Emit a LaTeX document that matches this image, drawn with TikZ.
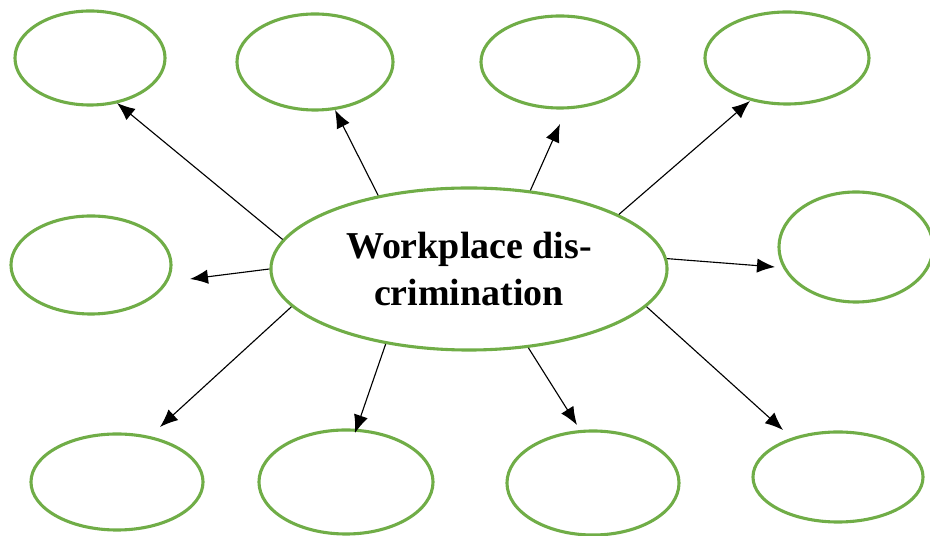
\documentclass[tikz,border=0pt]{standalone}
\usepackage{fontspec}
\setmainfont{Liberation Serif}
\usetikzlibrary{arrows.meta,shapes.geometric}
\definecolor{leafgreen}{RGB}{112,173,71}
\tikzset{
  bubble/.style={ellipse,draw=leafgreen,line width=2.2pt,inner sep=0pt,fill=white},
  hubbox/.style={bubble,align=center,font=\fontsize{27}{34}\selectfont\bfseries},
  flow/.style={-{Latex[length=4.5mm,width=3.6mm]},line width=0.8pt,draw=black}
}
\begin{document}
\begin{tikzpicture}[x=0.025cm,y=-0.025cm]
  \useasboundingbox (0,0) rectangle (930,536);
  % centre
  \node[hubbox,minimum width=9.9cm,minimum height=4.05cm] (hub) at (469,269) {Workplace dis-\\crimination};
  % top row
  \node[bubble,minimum width=3.75cm,minimum height=2.35cm] (t1) at (90,58) {};
  \node[bubble,minimum width=3.9cm,minimum height=2.4cm] (t2) at (315,62) {};
  \node[bubble,minimum width=3.95cm,minimum height=2.3cm] (t3) at (560,62) {};
  \node[bubble,minimum width=4.1cm,minimum height=2.3cm] (t4) at (787,58) {};
  % middle row
  \node[bubble,minimum width=4cm,minimum height=2.45cm] (m1) at (91,265) {};
  \node[bubble,minimum width=3.85cm,minimum height=2.75cm] (m2) at (856,247) {};
  % bottom row
  \node[bubble,minimum width=4.3cm,minimum height=2.4cm] (b1) at (117,482) {};
  \node[bubble,minimum width=4.35cm,minimum height=2.6cm] (b2) at (346,482) {};
  \node[bubble,minimum width=4.3cm,minimum height=2.6cm] (b3) at (593,483) {};
  \node[bubble,minimum width=4.25cm,minimum height=2.25cm] (b4) at (838,477) {};
  % arrow ends
  \coordinate (e1) at (117,103);
  \coordinate (e2) at (335,110);
  \coordinate (e3) at (560,124);
  \coordinate (e4) at (750,101);
  \coordinate (e5) at (190,279);
  \coordinate (e6) at (775,267);
  \coordinate (e7) at (160,427);
  \coordinate (e8) at (355,433);
  \coordinate (e9) at (577,425);
  \coordinate (e10) at (783,430);
  % arrows
  \draw[flow] (hub.171) -- (e1);
  \draw[flow] (hub.141) -- (e2);
  \draw[flow] (hub.52) -- (e3);
  \draw[flow] (hub.20) -- (e4);
  \draw[flow] (hub.180) -- (e5);
  \draw[flow] (hub.3) -- (e6);
  \draw[flow] (hub.-168) -- (e7);
  \draw[flow] (hub.-138) -- (e8);
  \draw[flow] (hub.-53) -- (e9);
  \draw[flow] (hub.-12) -- (e10);
\end{tikzpicture}
\end{document}
